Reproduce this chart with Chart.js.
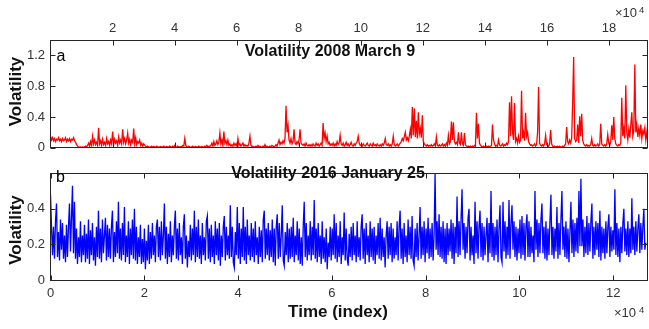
<!DOCTYPE html>
<html>
<head>
<meta charset="utf-8">
<script src="https://cdn.jsdelivr.net/npm/chart.js@4/dist/chart.umd.min.js"></script>
<style>
  html, body { margin: 0; padding: 0; background: #fff; }
  #wrap { position: relative; width: 649px; height: 329px; overflow: hidden; }
  #wrap canvas { position: absolute; left: 0; }
  #ca { top: 0; }
  #cb { top: 160px; }
</style>
</head>
<body>
<div id="wrap">
  <canvas id="ca" width="649" height="161"></canvas>
  <canvas id="cb" width="649" height="169"></canvas>
</div>
<script>
// Intraday volatility, 2008 March 9 (one value every redStep index units)
const redStep = 323;
const redVol = [
  0.15, 0.1, 0.13, 0.09, 0.12, 0.08, 0.11, 0.1, 0.13, 0.09, 0.11, 0.08, 0.12, 0.09, 0.1, 0.13, 0.08, 0.11, 0.09, 0.12,
  0.08, 0.11, 0.1, 0.13, 0.09, 0.07, 0.04, 0.02, 0.01, 0.005, 0.01, 0.005, 0.01, 0.005, 0.01, 0.02, 0.01, 0.03, 0.06, 0.02,
  0.08, 0.03, 0.15, 0.05, 0.1, 0.04, 0.07, 0.03, 0.26, 0.05, 0.09, 0.03, 0.11, 0.04, 0.07, 0.03, 0.12, 0.05, 0.08, 0.03,
  0.1, 0.05, 0.21, 0.04, 0.11, 0.06, 0.09, 0.03, 0.14, 0.06, 0.1, 0.05, 0.24, 0.07, 0.12, 0.05, 0.1, 0.19, 0.06, 0.11,
  0.04, 0.1, 0.07, 0.25, 0.05, 0.13, 0.04, 0.08, 0.06, 0.1, 0.03, 0.06, 0.02, 0.05, 0.03, 0.02, 0.01, 0.02, 0.01, 0.005,
  0.01, 0.02, 0.005, 0.015, 0.01, 0.005, 0.02, 0.01, 0.005, 0.01, 0.015, 0.005, 0.01, 0.02, 0.005, 0.01, 0.015, 0.005, 0.01, 0.02,
  0.01, 0.005, 0.02, 0.01, 0.03, 0.01, 0.005, 0.02, 0.01, 0.005, 0.015, 0.01, 0.03, 0.02, 0.12, 0.03, 0.01, 0.005, 0.02, 0.01,
  0.005, 0.01, 0.02, 0.005, 0.01, 0.015, 0.005, 0.01, 0.02, 0.01, 0.005, 0.015, 0.01, 0.005, 0.02, 0.01, 0.03, 0.01, 0.02, 0.015,
  0.03, 0.06, 0.02, 0.08, 0.03, 0.05, 0.09, 0.04, 0.07, 0.19, 0.05, 0.1, 0.03, 0.21, 0.06, 0.09, 0.04, 0.1, 0.03, 0.05,
  0.02, 0.04, 0.02, 0.06, 0.03, 0.05, 0.02, 0.12, 0.03, 0.05, 0.02, 0.04, 0.06, 0.02, 0.04, 0.02, 0.03, 0.02, 0.06, 0.15,
  0.03, 0.01, 0.02, 0.005, 0.01, 0.02, 0.01, 0.03, 0.01, 0.02, 0.005, 0.01, 0.02, 0.01, 0.04, 0.01, 0.02, 0.005, 0.01, 0.02,
  0.01, 0.03, 0.02, 0.01, 0.02, 0.04, 0.02, 0.06, 0.1, 0.04, 0.07, 0.05, 0.09, 0.06, 0.12, 0.545, 0.2, 0.29, 0.1, 0.06,
  0.12, 0.05, 0.08, 0.24, 0.06, 0.04, 0.08, 0.05, 0.1, 0.24, 0.06, 0.04, 0.03, 0.05, 0.02, 0.06, 0.03, 0.02, 0.04, 0.02,
  0.04, 0.02, 0.05, 0.03, 0.02, 0.06, 0.03, 0.05, 0.02, 0.04, 0.06, 0.03, 0.32, 0.12, 0.19, 0.08, 0.15, 0.05, 0.07, 0.03,
  0.05, 0.03, 0.06, 0.02, 0.05, 0.03, 0.08, 0.04, 0.06, 0.16, 0.05, 0.03, 0.06, 0.02, 0.04, 0.07, 0.03, 0.05, 0.02, 0.04,
  0.07, 0.03, 0.02, 0.05, 0.03, 0.06, 0.08, 0.15, 0.06, 0.03, 0.04, 0.02, 0.05, 0.03, 0.02, 0.04, 0.06, 0.03, 0.02, 0.05,
  0.03, 0.02, 0.06, 0.03, 0.04, 0.02, 0.05, 0.03, 0.02, 0.04, 0.02, 0.05, 0.03, 0.06, 0.12, 0.04, 0.03, 0.05, 0.02, 0.04,
  0.02, 0.05, 0.15, 0.04, 0.02, 0.03, 0.05, 0.02, 0.04, 0.06, 0.08, 0.12, 0.09, 0.14, 0.2, 0.1, 0.13, 0.09, 0.15, 0.24,
  0.12, 0.53, 0.16, 0.51, 0.14, 0.35, 0.12, 0.46, 0.18, 0.25, 0.13, 0.42, 0.08, 0.05, 0.03, 0.02, 0.04, 0.02, 0.03, 0.02,
  0.04, 0.02, 0.03, 0.05, 0.02, 0.14, 0.03, 0.02, 0.04, 0.02, 0.03, 0.05, 0.02, 0.04, 0.02, 0.06, 0.03, 0.16, 0.05, 0.08,
  0.34, 0.1, 0.33, 0.08, 0.05, 0.07, 0.04, 0.2, 0.06, 0.04, 0.2, 0.05, 0.03, 0.19, 0.04, 0.02, 0.01, 0.02, 0.01, 0.02,
  0.01, 0.02, 0.01, 0.03, 0.02, 0.455, 0.12, 0.31, 0.06, 0.03, 0.02, 0.01, 0.02, 0.01, 0.015, 0.02, 0.01, 0.02, 0.01, 0.02,
  0.03, 0.3, 0.1, 0.05, 0.02, 0.03, 0.02, 0.1, 0.04, 0.02, 0.03, 0.05, 0.02, 0.04, 0.03, 0.06, 0.04, 0.08, 0.59, 0.15,
  0.67, 0.2, 0.1, 0.58, 0.08, 0.12, 0.06, 0.15, 0.07, 0.1, 0.74, 0.12, 0.2, 0.09, 0.455, 0.15, 0.2, 0.08, 0.05, 0.03,
  0.04, 0.02, 0.03, 0.05, 0.02, 0.04, 0.2, 0.79, 0.06, 0.03, 0.02, 0.04, 0.02, 0.05, 0.16, 0.04, 0.03, 0.02, 0.05, 0.23,
  0.05, 0.02, 0.01, 0.02, 0.01, 0.015, 0.02, 0.01, 0.02, 0.01, 0.005, 0.02, 0.01, 0.03, 0.05, 0.27, 0.08, 0.05, 0.1, 0.06,
  0.12, 0.58, 1.18, 0.12, 0.08, 0.1, 0.3, 0.06, 0.41, 0.15, 0.44, 0.1, 0.05, 0.03, 0.02, 0.04, 0.02, 0.03, 0.02, 0.04,
  0.12, 0.03, 0.02, 0.04, 0.02, 0.03, 0.05, 0.02, 0.04, 0.31, 0.05, 0.03, 0.02, 0.04, 0.02, 0.05, 0.17, 0.06, 0.03, 0.08,
  0.29, 0.1, 0.4, 0.12, 0.05, 0.03, 0.02, 0.04, 0.03, 0.06, 0.65, 0.15, 0.25, 0.12, 0.81, 0.2, 0.1, 0.24, 0.13, 0.3,
  0.46, 0.15, 0.22, 1.08, 0.2, 0.3, 0.14, 0.25, 0.16, 0.3, 0.12, 0.22, 0.18, 0.26, 0.1, 0.2, 0.08
];

// Intraday volatility, 2016 January 25 (one value every blueStep index units)
const blueStep = 213;
const blueVol = [
  0.48, 0.3, 0.14, 0.3, 0.12, 0.33, 0.43, 0.13, 0.27, 0.11, 0.34, 0.17, 0.32, 0.12, 0.25, 0.1, 0.31, 0.13, 0.3, 0.43,
  0.16, 0.35, 0.53, 0.15, 0.44, 0.12, 0.29, 0.09, 0.24, 0.13, 0.33, 0.1, 0.25, 0.14, 0.31, 0.1, 0.26, 0.12, 0.34, 0.09,
  0.28, 0.14, 0.32, 0.11, 0.24, 0.08, 0.3, 0.13, 0.39, 0.12, 0.29, 0.1, 0.34, 0.15, 0.25, 0.35, 0.11, 0.31, 0.13, 0.29,
  0.12, 0.3, 0.39, 0.1, 0.27, 0.13, 0.33, 0.15, 0.44, 0.12, 0.29, 0.11, 0.32, 0.14, 0.41, 0.1, 0.25, 0.13, 0.33, 0.09,
  0.29, 0.14, 0.34, 0.12, 0.4, 0.11, 0.3, 0.09, 0.24, 0.13, 0.31, 0.09, 0.23, 0.1, 0.29, 0.06, 0.22, 0.11, 0.31, 0.09,
  0.27, 0.12, 0.32, 0.14, 0.25, 0.1, 0.3, 0.34, 0.13, 0.3, 0.11, 0.33, 0.14, 0.25, 0.43, 0.12, 0.3, 0.09, 0.26, 0.13,
  0.33, 0.1, 0.25, 0.14, 0.3, 0.39, 0.12, 0.29, 0.11, 0.32, 0.14, 0.24, 0.09, 0.3, 0.37, 0.12, 0.25, 0.07, 0.22, 0.13,
  0.31, 0.11, 0.29, 0.14, 0.39, 0.1, 0.3, 0.13, 0.34, 0.12, 0.25, 0.09, 0.32, 0.14, 0.24, 0.11, 0.33, 0.36, 0.12, 0.29,
  0.1, 0.31, 0.13, 0.25, 0.09, 0.33, 0.14, 0.29, 0.11, 0.32, 0.08, 0.25, 0.13, 0.3, 0.36, 0.11, 0.3, 0.14, 0.25, 0.12,
  0.42, 0.13, 0.3, 0.1, 0.07, 0.27, 0.14, 0.41, 0.12, 0.32, 0.09, 0.29, 0.13, 0.41, 0.11, 0.3, 0.09, 0.34, 0.14, 0.25,
  0.11, 0.32, 0.13, 0.29, 0.1, 0.33, 0.14, 0.24, 0.09, 0.3, 0.13, 0.28, 0.1, 0.34, 0.39, 0.12, 0.29, 0.14, 0.32, 0.11,
  0.28, 0.13, 0.34, 0.1, 0.29, 0.08, 0.3, 0.37, 0.12, 0.32, 0.13, 0.25, 0.42, 0.11, 0.08, 0.27, 0.14, 0.32, 0.1, 0.29,
  0.12, 0.3, 0.13, 0.35, 0.1, 0.25, 0.14, 0.33, 0.11, 0.29, 0.09, 0.24, 0.08, 0.3, 0.44, 0.13, 0.32, 0.11, 0.25, 0.14,
  0.33, 0.11, 0.3, 0.14, 0.45, 0.12, 0.29, 0.1, 0.32, 0.13, 0.25, 0.09, 0.33, 0.12, 0.24, 0.1, 0.29, 0.06, 0.21, 0.13,
  0.3, 0.11, 0.29, 0.14, 0.37, 0.12, 0.32, 0.1, 0.25, 0.13, 0.33, 0.09, 0.24, 0.14, 0.38, 0.11, 0.29, 0.12, 0.08, 0.26,
  0.13, 0.3, 0.11, 0.32, 0.14, 0.25, 0.1, 0.33, 0.13, 0.24, 0.11, 0.3, 0.37, 0.12, 0.29, 0.09, 0.32, 0.14, 0.25, 0.1,
  0.33, 0.13, 0.29, 0.11, 0.3, 0.09, 0.25, 0.14, 0.32, 0.12, 0.35, 0.11, 0.29, 0.13, 0.24, 0.07, 0.25, 0.33, 0.12, 0.3,
  0.14, 0.32, 0.1, 0.29, 0.12, 0.24, 0.14, 0.33, 0.11, 0.3, 0.39, 0.12, 0.29, 0.09, 0.32, 0.13, 0.25, 0.1, 0.34, 0.14,
  0.3, 0.12, 0.36, 0.11, 0.08, 0.29, 0.13, 0.32, 0.11, 0.25, 0.41, 0.12, 0.3, 0.14, 0.33, 0.1, 0.29, 0.15, 0.35, 0.12,
  0.29, 0.13, 0.32, 0.11, 0.25, 0.6, 0.17, 0.33, 0.14, 0.37, 0.13, 0.3, 0.12, 0.33, 0.1, 0.29, 0.09, 0.32, 0.14, 0.29,
  0.16, 0.34, 0.12, 0.32, 0.09, 0.3, 0.15, 0.47, 0.13, 0.33, 0.14, 0.34, 0.51, 0.17, 0.32, 0.12, 0.3, 0.15, 0.35, 0.4,
  0.11, 0.3, 0.14, 0.25, 0.09, 0.44, 0.15, 0.33, 0.12, 0.3, 0.39, 0.13, 0.32, 0.11, 0.3, 0.14, 0.25, 0.35, 0.1, 0.32,
  0.15, 0.5, 0.13, 0.32, 0.11, 0.3, 0.14, 0.34, 0.1, 0.29, 0.42, 0.13, 0.1, 0.44, 0.16, 0.33, 0.12, 0.3, 0.14, 0.45,
  0.12, 0.32, 0.42, 0.17, 0.33, 0.13, 0.3, 0.11, 0.29, 0.15, 0.34, 0.12, 0.36, 0.14, 0.32, 0.11, 0.3, 0.37, 0.13, 0.33,
  0.13, 0.3, 0.15, 0.25, 0.1, 0.5, 0.17, 0.34, 0.13, 0.32, 0.15, 0.34, 0.43, 0.15, 0.3, 0.12, 0.33, 0.11, 0.29, 0.14,
  0.33, 0.48, 0.14, 0.3, 0.12, 0.29, 0.16, 0.41, 0.12, 0.32, 0.14, 0.34, 0.5, 0.17, 0.3, 0.13, 0.33, 0.12, 0.29, 0.1,
  0.27, 0.44, 0.15, 0.34, 0.13, 0.32, 0.16, 0.35, 0.15, 0.5, 0.19, 0.57, 0.19, 0.34, 0.13, 0.3, 0.15, 0.36, 0.14, 0.32,
  0.16, 0.33, 0.43, 0.12, 0.3, 0.14, 0.33, 0.17, 0.32, 0.13, 0.39, 0.11, 0.3, 0.15, 0.29, 0.12, 0.33, 0.15, 0.3, 0.37,
  0.13, 0.3, 0.16, 0.28, 0.17, 0.51, 0.14, 0.32, 0.13, 0.29, 0.1, 0.3, 0.15, 0.32, 0.4, 0.16, 0.29, 0.14, 0.33, 0.13,
  0.29, 0.15, 0.46, 0.17, 0.3, 0.14, 0.33, 0.16, 0.29, 0.37, 0.15, 0.32, 0.17, 0.3, 0.4, 0.17, 0.21
];

// Axis ranges and tick values
const xMaxA = 192400, yMaxA = 1.4;
const xMaxB = 127300, yMaxB = 0.6;
const xTicksA = [20000, 40000, 60000, 80000, 100000, 120000, 140000, 160000, 180000];
const yTicksA = [0, 0.4, 0.8, 1.2];
const xTicksB = [0, 20000, 40000, 60000, 80000, 100000, 120000];
const yTicksB = [0, 0.2, 0.4];

const FAMILY = '"Liberation Sans", Arial, Helvetica, sans-serif';
const AXIS_COLOR = '#262626';
const TICK_COLOR = '#333333';

const fmtX = v => String(v / 1e4);
const fmtY = v => (v === 0 ? '0' : Number(v).toFixed(1));

// Boxed axes with inward tick marks on all four sides
const boxFrame = {
  id: 'boxFrame',
  afterDatasetsDraw(chart) {
    const { ctx, chartArea: a, scales } = chart;
    const L = Math.floor(a.left) + 0.5, R = Math.floor(a.right) + 0.5;
    const T = Math.floor(a.top) + 0.5, B = Math.floor(a.bottom) + 0.5;
    const len = 5;
    ctx.save();
    ctx.strokeStyle = AXIS_COLOR;
    ctx.lineWidth = 1;
    ctx.strokeRect(L, T, R - L, B - T);
    ctx.beginPath();
    for (const t of scales.x.ticks) {
      const px = Math.round(scales.x.getPixelForValue(t.value)) + 0.5;
      ctx.moveTo(px, T); ctx.lineTo(px, T + len);
      ctx.moveTo(px, B); ctx.lineTo(px, B - len);
    }
    for (const t of scales.y.ticks) {
      const py = Math.round(scales.y.getPixelForValue(t.value)) + 0.5;
      ctx.moveTo(L, py); ctx.lineTo(L + len, py);
      ctx.moveTo(R, py); ctx.lineTo(R - len, py);
    }
    ctx.stroke();
    ctx.restore();
  }
};

// Free-standing text: panel letters, titles, axis titles, exponent
function textLayer(items) {
  return {
    id: 'textLayer',
    afterDraw(chart) {
      const ctx = chart.ctx;
      for (const it of items) {
        ctx.save();
        ctx.font = (it.bold ? 'bold ' : '') + it.size + 'px ' + FAMILY;
        ctx.fillStyle = it.color || '#000';
        ctx.textAlign = it.align || 'left';
        ctx.textBaseline = 'alphabetic';
        ctx.translate(it.x, it.y);
        if (it.rotate) ctx.rotate(-Math.PI / 2);
        ctx.fillText(it.text, 0, 0);
        ctx.restore();
      }
    }
  };
}

function axisOpts(extra) {
  return Object.assign({
    type: 'linear',
    grid: { display: false, drawTicks: false },
    border: { display: false }
  }, extra);
}

function tickFont() {
  return { family: FAMILY, size: 13 };
}

function baseOptions(scales, padding) {
  return {
    responsive: false,
    maintainAspectRatio: false,
    animation: false,
    devicePixelRatio: 1,
    events: [],
    parsing: false,
    normalized: true,
    layout: { padding },
    plugins: { legend: { display: false }, tooltip: { enabled: false }, title: { display: false } },
    elements: { point: { radius: 0 }, line: { tension: 0 } },
    scales
  };
}

// Panel a: 2008 March 9
new Chart(document.getElementById('ca'), {
  type: 'line',
  data: {
    datasets: [{
      data: redVol.map((v, i) => ({ x: i * redStep, y: v })),
      borderColor: '#ff0000',
      borderWidth: 1.3,
      pointRadius: 0,
      fill: false
    }]
  },
  options: baseOptions({
    x: axisOpts({
      position: 'top', min: 0, max: xMaxA,
      afterBuildTicks: s => { s.ticks = xTicksA.map(v => ({ value: v })); },
      afterFit: s => { s.height = 40; },
      ticks: { padding: 4, color: TICK_COLOR, font: tickFont(), maxRotation: 0, minRotation: 0, autoSkip: false, callback: fmtX }
    }),
    y: axisOpts({
      position: 'left', min: 0, max: yMaxA,
      afterBuildTicks: s => { s.ticks = yTicksA.map(v => ({ value: v })); },
      afterFit: s => { s.width = 50.5; },
      ticks: { padding: 5.5, color: TICK_COLOR, font: tickFont(), callback: fmtY }
    })
  }, { left: 0, right: 1.5, top: 0, bottom: 1 }),
  plugins: [boxFrame, textLayer([
    { text: 'a', x: 56.5, y: 60.5, size: 16, color: '#000' },
    { text: 'Volatility 2008 March 9', x: 330, y: 56, size: 16, bold: true, align: 'center', color: '#111' },
    { text: 'Volatility', x: 20.7, y: 91.5, size: 17, bold: true, align: 'center', rotate: true, color: '#111' },
    { text: '\u00d710', x: 615, y: 17, size: 13, color: TICK_COLOR },
    { text: '4', x: 639, y: 12.5, size: 9.5, color: TICK_COLOR }
  ])]
});

// Panel b: 2016 January 25
new Chart(document.getElementById('cb'), {
  type: 'line',
  data: {
    datasets: [{
      data: blueVol.map((v, i) => ({ x: i * blueStep, y: v })),
      borderColor: '#0000ff',
      borderWidth: 1.3,
      pointRadius: 0,
      fill: false
    }]
  },
  options: baseOptions({
    x: axisOpts({
      position: 'bottom', min: 0, max: xMaxB,
      afterBuildTicks: s => { s.ticks = xTicksB.map(v => ({ value: v })); },
      afterFit: s => { s.height = 49; },
      ticks: { padding: 5.5, color: TICK_COLOR, font: tickFont(), maxRotation: 0, minRotation: 0, autoSkip: false, callback: fmtX }
    }),
    y: axisOpts({
      position: 'left', min: 0, max: yMaxB,
      afterBuildTicks: s => { s.ticks = yTicksB.map(v => ({ value: v })); },
      afterFit: s => { s.width = 50.5; },
      ticks: { padding: 5.5, color: TICK_COLOR, font: tickFont(), callback: fmtY }
    })
  }, { left: 0, right: 1.5, top: 0, bottom: 0 }),
  plugins: [boxFrame, textLayer([
    { text: 'b', x: 56, y: 21.5, size: 16, color: '#000' },
    { text: 'Volatility 2016 January 25', x: 328, y: 17.5, size: 16, bold: true, align: 'center', color: '#111' },
    { text: 'Volatility', x: 20.7, y: 70, size: 17, bold: true, align: 'center', rotate: true, color: '#111' },
    { text: 'Time (index)', x: 338, y: 156.5, size: 17, bold: true, align: 'center', color: '#111' },
    { text: '\u00d710', x: 614, y: 156.7, size: 13, color: TICK_COLOR },
    { text: '4', x: 639, y: 152.5, size: 9.5, color: TICK_COLOR }
  ])]
});
</script>
</body>
</html>
